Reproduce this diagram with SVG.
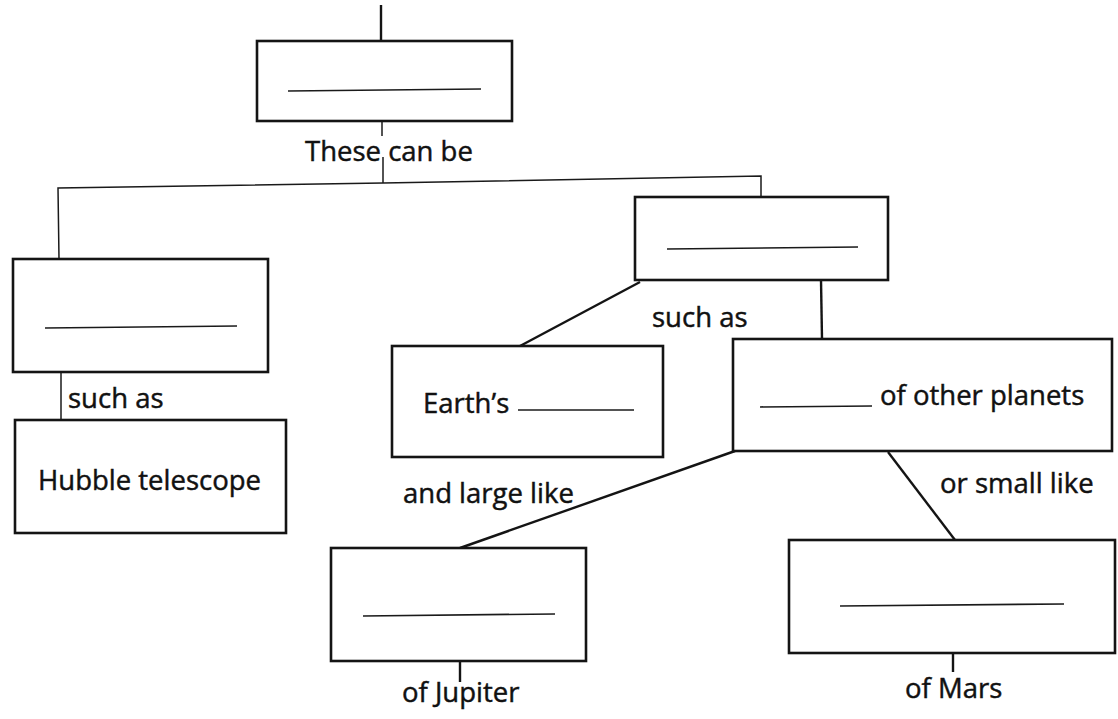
<svg xmlns="http://www.w3.org/2000/svg" width="1118" height="719" viewBox="0 0 1118 719">
  <style>
    .box { fill: #fff; stroke: #141414; stroke-width: 2.6; }
    .blank { stroke: #1a1a1a; stroke-width: 1.7; fill: none; }
    .link { stroke: #141414; stroke-width: 2.4; fill: none; stroke-linecap: butt; }
    .thin { stroke: #1a1a1a; stroke-width: 1.5; fill: none; }
    .lbl { font-family: "Open Sans", "Noto Sans", "Liberation Sans", sans-serif; font-size: 27.5px; font-weight: 500; fill: #111; stroke: #111; stroke-width: 0.45; }
  </style>
  <rect width="1118" height="719" fill="#fff"/>

  <!-- connectors -->
  <g id="connectors">
    <line class="link" x1="381" y1="5" x2="381" y2="41"/>
    <line class="thin" x1="382" y1="121" x2="382" y2="136"/>
    <line class="thin" x1="383" y1="157" x2="383" y2="183"/>
    <polyline class="thin" points="59,259 58,188 383,183 761,176 761,197"/>
    <line class="thin" x1="61" y1="372" x2="61" y2="420"/>
    <line class="link" x1="640" y1="282" x2="520" y2="346"/>
    <line class="link" x1="821" y1="280" x2="822" y2="339"/>
    <line class="link" x1="735" y1="451" x2="460" y2="548"/>
    <line class="link" x1="888" y1="452" x2="955" y2="540"/>
    <line class="link" x1="460" y1="661" x2="460" y2="682"/>
    <line class="link" x1="953" y1="653" x2="953" y2="672"/>
    <text class="lbl" x="305" y="161">These can be</text>
    <text class="lbl" x="68" y="408">such as</text>
    <text class="lbl" x="652" y="327">such as</text>
    <text class="lbl" x="403" y="503">and large like</text>
    <text class="lbl" x="940" y="493">or small like</text>
    <text class="lbl" x="402" y="702">of Jupiter</text>
    <text class="lbl" x="905" y="698">of Mars</text>
  </g>

  <!-- concept boxes -->
  <g id="node-top">
    <rect class="box" x="257" y="41" width="255" height="80"/>
    <line class="blank" x1="288" y1="91" x2="481" y2="89"/>
  </g>
  <g id="node-left">
    <rect class="box" x="13" y="259" width="255" height="113"/>
    <line class="blank" x1="45" y1="328" x2="237" y2="326"/>
  </g>
  <g id="node-hubble">
    <rect class="box" x="15" y="420" width="271" height="113"/>
    <text class="lbl" x="38" y="490">Hubble telescope</text>
  </g>
  <g id="node-right">
    <rect class="box" x="635" y="197" width="253" height="83"/>
    <line class="blank" x1="667" y1="249" x2="858" y2="247"/>
  </g>
  <g id="node-earth">
    <rect class="box" x="392" y="346" width="271" height="111"/>
    <text class="lbl" x="423" y="413">Earth’s</text>
    <line class="blank" x1="518" y1="410" x2="634" y2="410"/>
  </g>
  <g id="node-planets">
    <rect class="box" x="733" y="339" width="379" height="112"/>
    <line class="blank" x1="760" y1="407" x2="872" y2="406"/>
    <text class="lbl" x="880" y="405">of other planets</text>
  </g>
  <g id="node-jupiter">
    <rect class="box" x="331" y="548" width="255" height="113"/>
    <line class="blank" x1="363" y1="616" x2="555" y2="614"/>
  </g>
  <g id="node-mars">
    <rect class="box" x="789" y="540" width="326" height="113"/>
    <line class="blank" x1="840" y1="606" x2="1064" y2="604"/>
  </g>
</svg>
